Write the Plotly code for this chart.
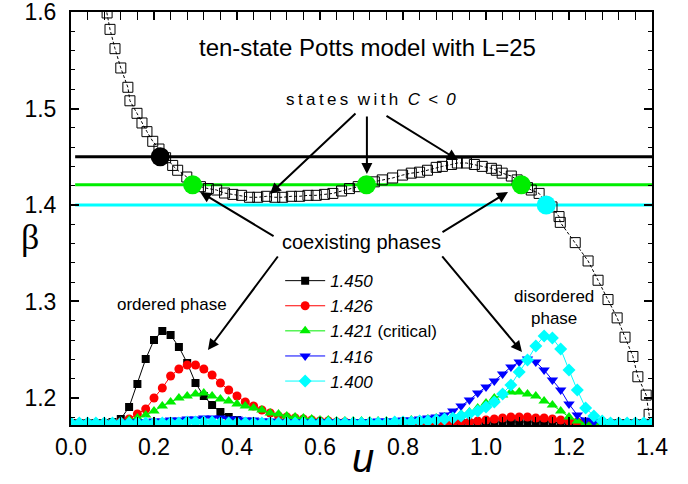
import plotly.graph_objects as go

# ---- microcanonical inverse temperature beta(u) (open squares) ----
u_curve = [0.075, 0.087, 0.094, 0.106, 0.120, 0.137, 0.142, 0.159, 0.171, 0.183,
           0.197, 0.212, 0.228, 0.245, 0.257, 0.279, 0.293, 0.312, 0.331, 0.351,
           0.370, 0.390, 0.411, 0.430, 0.450, 0.471, 0.491, 0.510, 0.531, 0.551,
           0.571, 0.591, 0.611, 0.631, 0.652, 0.671, 0.692, 0.712, 0.731, 0.750,
           0.775, 0.799, 0.820, 0.840, 0.859, 0.880, 0.895, 0.917, 0.931, 0.953,
           0.972, 0.991, 1.013, 1.025, 1.039, 1.061, 1.075, 1.085, 1.100, 1.109,
           1.128, 1.145, 1.159, 1.176, 1.179, 1.215, 1.246, 1.270, 1.294, 1.316,
           1.335, 1.354, 1.366, 1.386, 1.393, 1.399]
beta_curve = [1.625, 1.599, 1.582, 1.562, 1.542, 1.522, 1.508, 1.495, 1.485, 1.476,
              1.466, 1.458, 1.449, 1.441, 1.436, 1.429, 1.422, 1.419, 1.417, 1.4155,
              1.4124, 1.411, 1.410, 1.408, 1.408, 1.409, 1.408, 1.408, 1.409, 1.409,
              1.410, 1.410, 1.411, 1.412, 1.4145, 1.417, 1.419, 1.4225, 1.424, 1.426,
              1.428, 1.431, 1.433, 1.434, 1.436, 1.439, 1.440, 1.442, 1.4435, 1.4435,
              1.442, 1.440, 1.438, 1.436, 1.433, 1.430, 1.426, 1.422, 1.418, 1.4155,
              1.412, 1.402, 1.398, 1.388, 1.382, 1.361, 1.342, 1.322, 1.302, 1.283,
              1.263, 1.243, 1.222, 1.203, 1.183, 1.165]

# ---- inverse temperatures of the horizontal cuts and their crossings ----
beta_black, beta_green, beta_cyan = 1.450, 1.421, 1.400
cross_black_u = [0.215]
cross_green_u = [0.293, 0.712, 1.085]
cross_cyan_u = [1.145]
line_u = [0.01, 1.40]

# ---- axis ticks ----
beta_ticks = [1.2, 1.3, 1.4, 1.5, 1.6]
u_ticks = [0.0, 0.2, 0.4, 0.6, 0.8, 1.0, 1.2, 1.4]

# ---- energy histograms P(u) (arbitrary units) ----
u_bins = [0.00, 0.02, 0.04, 0.06, 0.08, 0.10, 0.12, 0.14, 0.16, 0.18,
          0.20, 0.22, 0.24, 0.26, 0.28, 0.30, 0.32, 0.34, 0.36, 0.38,
          0.40, 0.42, 0.44, 0.46, 0.48, 0.50, 0.52, 0.54, 0.56, 0.58,
          0.60, 0.62, 0.64, 0.66, 0.68, 0.70, 0.72, 0.74, 0.76, 0.78,
          0.80, 0.82, 0.84, 0.86, 0.88, 0.90, 0.92, 0.94, 0.96, 0.98,
          1.00, 1.02, 1.04, 1.06, 1.08, 1.10, 1.12, 1.14, 1.16, 1.18,
          1.20, 1.22, 1.24, 1.26, 1.28, 1.30, 1.32, 1.34, 1.36, 1.38,
          1.40]
hist_1450 = [0, 0, 0, 0, 0, 1, 4, 16, 39, 64,
             83, 92, 88, 76, 60, 40, 27, 18, 11, 6,
             3, 1, 0, 0, 0, 0, 0, 0, 0, 0,
             0, 0, 0, 0, 0, 0, 0, 0, 0, 0,
             0, 0, 0, 0, 0, 0, 0, 0, 0, 0,
             1, 1, 1, 1, 1, 1, 1, 1, 1, 0,
             0, 0, 0, 0, 0, 0, 0, 0, 0, 0,
             0]
hist_1426 = [0, 0, 0, 0, 0, 0, 1, 4, 9, 14,
             25, 35, 47, 54, 58, 58, 54, 48, 40, 33,
             27, 21, 17, 13, 10, 7, 6, 5, 4, 3,
             2, 2, 1, 1, 0, 0, 0, 0, 0, 0,
             0, 0, 0, 0, 0, 0, 0, 1, 1, 2,
             3, 4, 5, 6, 6, 6, 5, 5, 4, 3,
             2, 1, 0, 0, 0, 0, 0, 0, 0, 0,
             0]
hist_1421 = [0, 0, 0, 0, 0, 0, 1, 3, 5, 8,
             12, 17, 21, 25, 27, 29, 30, 27, 24, 22,
             19, 17, 15, 13, 10, 9, 7, 6, 5, 4,
             3, 3, 2, 2, 2, 2, 2, 2, 2, 2,
             2, 3, 3, 4, 5, 6, 7, 9, 11, 15,
             20, 25, 28, 31, 31, 29, 27, 22, 18, 12,
             6, 2, 0, 0, 0, 0, 0, 0, 0, 0,
             0]
hist_1416 = [0, 0, 0, 0, 0, 0, 0, 1, 1, 1,
             2, 2, 3, 3, 4, 4, 5, 5, 5, 4,
             4, 3, 3, 2, 2, 1, 1, 1, 1, 1,
             1, 1, 1, 1, 1, 1, 1, 2, 2, 2,
             3, 3, 4, 5, 6, 8, 12, 17, 23, 30,
             36, 42, 49, 56, 61, 64, 61, 53, 43, 33,
             19, 8, 3, 1, 0, 0, 0, 0, 0, 0,
             0]
hist_1400 = [0, 0, 0, 0, 0, 0, 0, 0, 0, 0,
             0, 0, 0, 0, 1, 1, 1, 1, 0, 0,
             0, 0, 0, 0, 0, 0, 0, 0, 0, 0,
             0, 0, 0, 0, 0, 0, 0, 0, 0, 1,
             1, 1, 2, 2, 3, 4, 5, 7, 9, 12,
             16, 21, 29, 38, 51, 63, 77, 87, 85, 74,
             53, 33, 15, 7, 2, 0, 0, 0, 0, 0,
             0]

hist_series = [
    ("<i>1.450</i>", hist_1450, "#000000", "square", 8),
    ("<i>1.426</i>", hist_1426, "#ff0000", "circle", 9),
    ("<i>1.421</i> (critical)", hist_1421, "#00ee00", "triangle-up", 10),
    ("<i>1.416</i>", hist_1416, "#0000ff", "triangle-down", 10),
    ("<i>1.400</i>", hist_1400, "#00ffff", "diamond", 10),
]

FONT = "Liberation Sans"
fig = go.Figure()

# horizontal cuts at fixed beta
for b, col in [(beta_black, "#000000"), (beta_green, "#00ee00"), (beta_cyan, "#00ffff")]:
    fig.add_trace(go.Scatter(x=line_u, y=[b, b], mode="lines",
                             line=dict(color=col, width=3),
                             showlegend=False, hoverinfo="skip"))

# beta(u) curve
fig.add_trace(go.Scatter(x=u_curve, y=beta_curve, mode="lines+markers",
                         line=dict(color="#000000", width=1, dash="3px,2px"),
                         marker=dict(symbol="square-open", size=10,
                                     color="#000000", line=dict(width=1)),
                         showlegend=False))

# crossing points
for us, b, col in [(cross_black_u, beta_black, "#000000"),
                   (cross_green_u, beta_green, "#00ee00"),
                   (cross_cyan_u, beta_cyan, "#00ffff")]:
    fig.add_trace(go.Scatter(x=us, y=[b] * len(us), mode="markers",
                             marker=dict(symbol="circle", size=19, color=col),
                             showlegend=False))

# histograms on a hidden overlay axis
for name, vals, col, sym, sz in hist_series:
    fig.add_trace(go.Scatter(x=u_bins, y=vals, yaxis="y2", mode="lines+markers",
                             name=name,
                             line=dict(color=col, width=1),
                             marker=dict(symbol=sym, size=sz, color=col)))

# arrows: (tip u, tip beta, tail dx px, tail dy px)
arrows = [
    (0.4795, 1.4114, 87, -82),
    (0.713, 1.432, 0, -59),
    (0.9325, 1.4466, -73, -45),
    (0.311, 1.4135, 75, 45),
    (1.053, 1.4135, -67, 41),
    (0.330, 1.2497, 71, -95),
    (1.0867, 1.2477, -81, -97),
]
annotations = []
for tu, tb, dx, dy in arrows:
    annotations.append(dict(x=tu, y=tb, xref="x", yref="y", ax=dx, ay=dy,
                            text="", showarrow=True, arrowhead=2, arrowsize=1.1,
                            arrowwidth=2, arrowcolor="#000000", standoff=0))

thin = "\u2009"
spaced = thin.join("states") + "  " + thin.join("with") + "  " + \
    "<i>C" + thin + " &lt; " + thin + "0</i>"

texts = [
    ("ten-state Potts model with L=25", 0.511, 0.913, 24),
    (spaced, 0.516, 0.787, 17),
    ("coexisting phases", 0.50, 0.443, 20),
    ("ordered phase", 0.173, 0.2906, 17),
    ("disordered<br>phase", 0.831, 0.2845, 17),
]
for t, x, y, s in texts:
    annotations.append(dict(text=t, x=x, y=y, xref="paper", yref="paper",
                            xanchor="center", yanchor="middle",
                            showarrow=False, font=dict(family=FONT, size=s, color="#000000")))

# axis titles
annotations.append(dict(text="\u03b2", x=-0.07, y=0.455, xref="paper", yref="paper",
                        xanchor="center", yanchor="middle",
                        showarrow=False, font=dict(family="Liberation Serif", size=36, color="#000000")))
annotations.append(dict(text="<i>u</i>", x=0.503, y=-0.081, xref="paper", yref="paper",
                        xanchor="center", yanchor="middle",
                        showarrow=False, font=dict(family=FONT, size=40, color="#000000")))

axis_common = dict(showline=True, linewidth=2, linecolor="#000000", mirror="allticks",
                   ticks="inside", ticklen=8, tickwidth=2, tickcolor="#000000",
                   showgrid=False, zeroline=False, automargin=False,
                   ticklabeloverflow="allow",
                   tickfont=dict(family=FONT, size=23, color="#000000"))

fig.update_layout(
    width=688, height=484,
    margin=dict(l=71, r=36, t=12, b=59, autoexpand=False),
    paper_bgcolor="white", plot_bgcolor="white",
    xaxis=dict(range=[0, 1.4], tickmode="array", tickvals=u_ticks, tickformat=".1f",
               minor=dict(dtick=0.04, tick0=0, ticklen=4, tickwidth=1, ticks="inside",
                          tickcolor="#000000"),
               **axis_common),
    yaxis=dict(range=[1.172, 1.6], tickmode="array", tickvals=beta_ticks, tickformat=".1f",
               ticklabelstandoff=8,
               minor=dict(dtick=0.02, tick0=1.2, ticklen=4, tickwidth=1, ticks="inside",
                          tickcolor="#000000"),
               **axis_common),
    yaxis2=dict(range=[-2, 411], overlaying="y", visible=False),
    legend=dict(x=0.36, y=0.392, xanchor="left", yanchor="top",
                bgcolor="rgba(0,0,0,0)", font=dict(family=FONT, size=17, color="#000000"),
                itemwidth=40, tracegroupgap=0),
    annotations=annotations,
    showlegend=True,
)

fig.write_html("out.html")
